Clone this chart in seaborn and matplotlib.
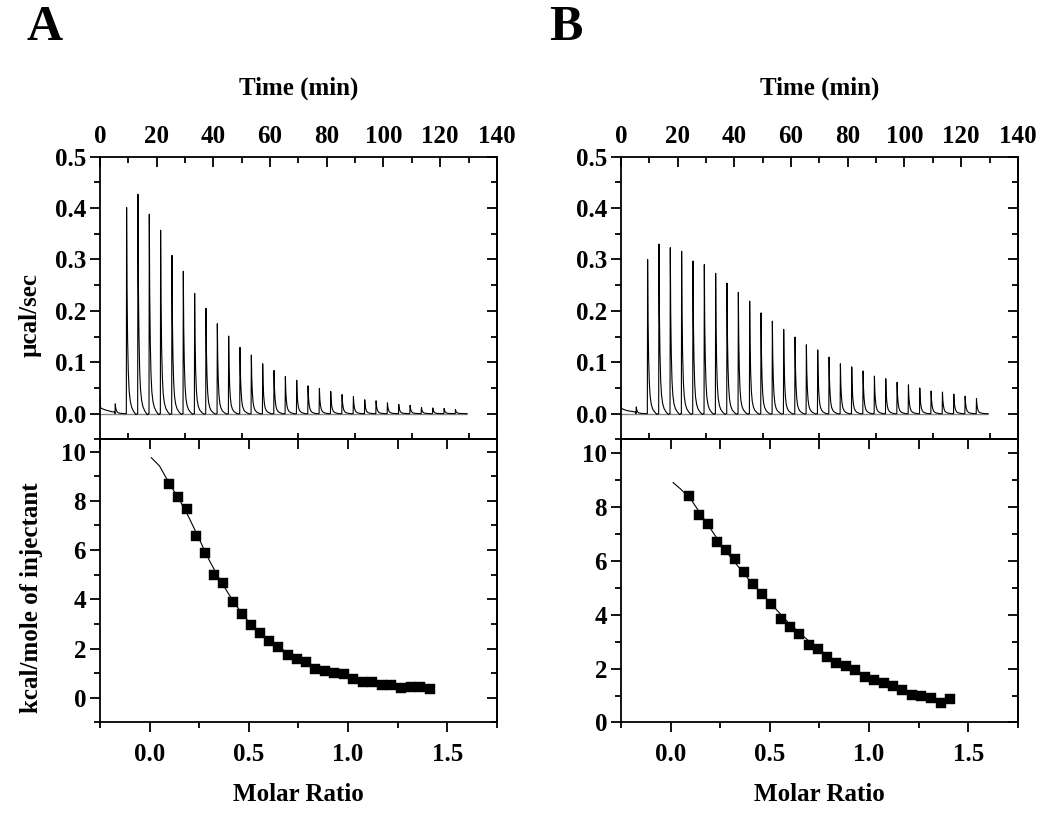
import matplotlib
matplotlib.use("Agg")
import matplotlib.pyplot as plt
import numpy as np
import seaborn as sns
from matplotlib.ticker import MultipleLocator, FormatStrFormatter

# injection times (min), same schedule in both experiments
inj_time = [5.3, 9.3, 13.3, 17.3, 21.3, 25.3, 29.3, 33.3, 37.3, 41.3, 45.3,
            49.3, 53.3, 57.3, 61.3, 65.3, 69.3, 73.3, 77.3, 81.3, 85.3,
            89.3, 93.3, 97.3, 101.3, 105.3, 109.3, 113.3, 117.3, 121.3, 125.3]

# peak heights (ucal/sec)
peak_a = [0.019, 0.401, 0.427, 0.388, 0.357, 0.308, 0.277, 0.234, 0.205, 0.175,
          0.151, 0.129, 0.114, 0.097, 0.084, 0.072, 0.065, 0.054, 0.049, 0.043,
          0.037, 0.033, 0.027, 0.025, 0.021, 0.018, 0.016, 0.012, 0.011, 0.010, 0.008]
peak_b = [0.013, 0.300, 0.330, 0.323, 0.316, 0.297, 0.290, 0.273, 0.254, 0.236,
          0.219, 0.196, 0.180, 0.164, 0.149, 0.134, 0.124, 0.110, 0.097, 0.091,
          0.083, 0.073, 0.068, 0.061, 0.056, 0.050, 0.044, 0.042, 0.038, 0.034, 0.029]

# baseline drift before the first injection
pre_time = [0.0, 0.2, 0.6, 2.0, 4.0, 5.2]
pre_a = [0.035, 0.012, 0.010, 0.007, 0.004, 0.003]
pre_b = [0.030, 0.010, 0.009, 0.006, 0.004, 0.003]
end_time = 129.5

# shape of one injection peak (offset in min, fraction of height)
peak_offset = [0.0, 0.1, 0.25, 0.45, 0.7, 1.0, 1.4, 1.9, 2.6, 3.4, 3.9]
peak_shape = [0.0, 1.0, 0.6, 0.36, 0.2, 0.11, 0.06, 0.03, 0.01, -0.005, 0.0]

# integrated heats
ratio_a = [0.096, 0.143, 0.188, 0.233, 0.279, 0.326, 0.371, 0.418, 0.465, 0.510,
           0.555, 0.602, 0.649, 0.696, 0.742, 0.789, 0.836, 0.883, 0.931, 0.978,
           1.027, 1.076, 1.122, 1.171, 1.218, 1.268, 1.317, 1.364, 1.413]
heat_a = [8.67, 8.17, 7.67, 6.57, 5.89, 5.00, 4.65, 3.88, 3.39, 2.95,
          2.64, 2.32, 2.05, 1.75, 1.57, 1.44, 1.18, 1.10, 1.02, 0.95,
          0.77, 0.65, 0.65, 0.51, 0.51, 0.41, 0.45, 0.45, 0.35]
ratio_b = [0.095, 0.142, 0.189, 0.234, 0.279, 0.326, 0.371, 0.416, 0.463, 0.508,
           0.555, 0.602, 0.649, 0.696, 0.742, 0.789, 0.836, 0.883, 0.930, 0.978,
           1.025, 1.074, 1.120, 1.167, 1.216, 1.264, 1.313, 1.361, 1.408]
heat_b = [8.41, 7.68, 7.35, 6.70, 6.39, 6.08, 5.59, 5.12, 4.75, 4.40,
          3.82, 3.54, 3.29, 2.87, 2.71, 2.44, 2.22, 2.08, 1.94, 1.69,
          1.57, 1.45, 1.37, 1.20, 1.01, 0.99, 0.91, 0.74, 0.87]

# fitted curves
fit_ratio_a = [0.008, 0.05, 0.1, 0.15, 0.2, 0.25, 0.3, 0.35, 0.4, 0.45, 0.5,
               0.6, 0.7, 0.8, 0.9, 1.0, 1.1, 1.2, 1.3, 1.41]
fit_heat_a = [9.76, 9.42, 8.70, 8.05, 7.30, 6.45, 5.60, 4.85, 4.20, 3.60, 3.08,
              2.35, 1.80, 1.40, 1.10, 0.88, 0.72, 0.60, 0.50, 0.42]
fit_ratio_b = [0.012, 0.05, 0.1, 0.15, 0.2, 0.25, 0.3, 0.35, 0.4, 0.45, 0.5,
               0.6, 0.7, 0.8, 0.9, 1.0, 1.1, 1.2, 1.3, 1.41]
fit_heat_b = [8.90, 8.66, 8.30, 7.75, 7.20, 6.65, 6.15, 5.70, 5.25, 4.85, 4.45,
              3.65, 3.00, 2.42, 2.00, 1.65, 1.38, 1.15, 0.95, 0.78]

FS = 18


def build_trace(pre_y, heights):
    t = list(pre_time)
    y = list(pre_y)
    for tk, hk in zip(inj_time, heights):
        for off, frac in zip(peak_offset, peak_shape):
            t.append(tk + off)
            y.append(hk * frac)
    t.append(end_time)
    y.append(0.0)
    return np.array(t), np.array(y)


def style_axis(ax, side, direction, major, minor, labels, fmt=None):
    xy = "x" if side in ("top", "bottom") else "y"
    axis = ax.xaxis if xy == "x" else ax.yaxis
    axis.set_major_locator(MultipleLocator(major))
    axis.set_minor_locator(MultipleLocator(minor))
    if fmt:
        axis.set_major_formatter(FormatStrFormatter(fmt))
    kw = {side: True, "label" + side: labels}
    ax.tick_params(axis=xy, which="major", direction=direction, length=7,
                   width=1.3, labelsize=FS, color="black", labelcolor="black", **kw)
    ax.tick_params(axis=xy, which="minor", direction=direction, length=4,
                   width=1.3, color="black", **kw)


def draw_panel(x0, heights, pre_y, ratio, heat, fit_r, fit_h, ylow, letter, titles):
    w = 0.378
    top = fig.add_axes([x0, 0.4649, w, 0.3442])
    bot = fig.add_axes([x0, 0.1200, w, 0.3449])

    t, y = build_trace(pre_y, heights)
    sns.lineplot(x=[0, end_time], y=[0, 0], ax=top, color="#888888", lw=1.0)
    sns.lineplot(x=t, y=y, ax=top, color="black", lw=0.8, estimator=None, sort=False)
    top.set_xlim(0, 140)
    top.set_ylim(-0.05, 0.5)
    top.tick_params(bottom=False, labelbottom=False)
    top.xaxis.set_label_position("top")
    style_axis(top, "top", "in", 20, 10, True)
    top.tick_params(axis="x", pad=6)
    style_axis(top, "left", "out", 0.1, 0.05, True, "%.1f")
    top.tick_params(axis="y", pad=3)
    rt = top.secondary_yaxis("right")
    style_axis(rt, "right", "in", 0.1, 0.05, False)
    top.set_xlabel("Time (min)", fontsize=FS, fontweight="bold", labelpad=22)

    sns.lineplot(x=fit_r, y=fit_h, ax=bot, color="black", lw=0.8, estimator=None, sort=False)
    sns.scatterplot(x=ratio, y=heat, ax=bot, marker="s", s=55, color="black",
                    edgecolor="black", linewidth=0.3, zorder=3)
    bot.set_xlim(-0.25, 1.75)
    bot.set_ylim(ylow, 10.5)
    style_axis(bot, "bottom", "out", 0.5, 0.25, True, "%.1f")
    bot.tick_params(axis="x", pad=8)
    style_axis(bot, "left", "out", 2, 1, True)
    bot.tick_params(axis="y", pad=3)
    tp = bot.secondary_xaxis("top")
    style_axis(tp, "top", "in", 0.25, 0.25, False)
    rb = bot.secondary_yaxis("right")
    style_axis(rb, "right", "in", 2, 1, False)
    bot.set_xlabel("Molar Ratio", fontsize=FS, fontweight="bold", labelpad=12)

    for a in (top, bot, rt, rb, tp):
        for s in a.spines.values():
            s.set_linewidth(1.3)
            s.set_color("black")

    if titles:
        top.set_ylabel("\u00b5cal/sec", fontsize=FS, fontweight="bold")
        top.yaxis.set_label_coords(-0.146, 0.44)
        bot.set_ylabel("kcal/mole of injectant", fontsize=FS, fontweight="bold")
        bot.yaxis.set_label_coords(-0.144, 0.44)
    fig.text(x0 - 0.053, 0.966, letter, fontsize=36, fontweight="bold",
             ha="center", va="center")


sns.set_style("ticks")
plt.rcParams["font.family"] = ["Liberation Serif", "DejaVu Serif"]
plt.rcParams["font.weight"] = "bold"
plt.rcParams["text.color"] = "black"
plt.rcParams["axes.labelcolor"] = "black"
plt.rcParams["xtick.color"] = "black"
plt.rcParams["ytick.color"] = "black"

fig = plt.figure(figsize=(10.5, 8.21), dpi=100)
draw_panel(0.0952, peak_a, pre_a, ratio_a, heat_a, fit_ratio_a, fit_heat_a, -1, "A", True)
draw_panel(0.5914, peak_b, pre_b, ratio_b, heat_b, fit_ratio_b, fit_heat_b, 0, "B", False)
fig.savefig("out.png", dpi=100)
